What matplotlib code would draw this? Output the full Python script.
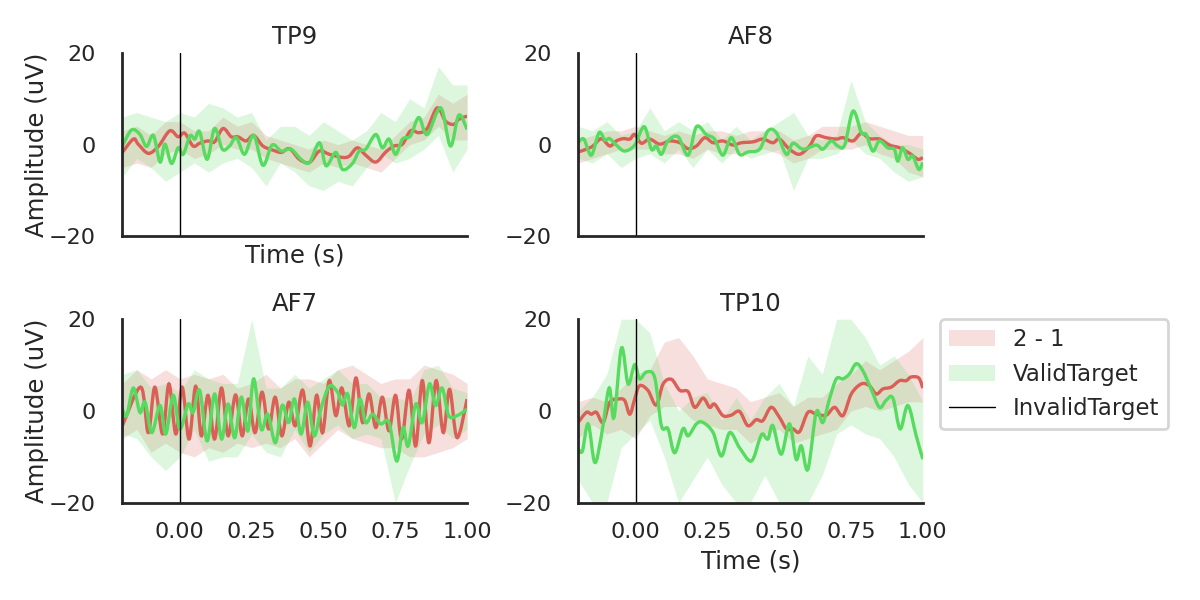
import numpy as np
import matplotlib
matplotlib.use('Agg')
import matplotlib.pyplot as plt
import seaborn as sns
from matplotlib.patches import Patch, PathPatch
from matplotlib.lines import Line2D
from matplotlib.path import Path

sns.set_style('white')
plt.rcParams['font.family'] = ['DejaVu Sans']

channels = ['TP9', 'AF8', 'AF7', 'TP10']
legend_labels = ['2 - 1', 'ValidTarget', 'InvalidTarget']
x_ticks = [0.0, 0.25, 0.5, 0.75, 1.0]
y_ticks = [-20, 0, 20]

# common time grid for the confidence bands
band_t = np.linspace(-0.2, 1.0, 25)

# ---- TP9 ----
tp9_red_t = [-0.2, -0.162, -0.145, -0.11, -0.075, -0.035, -0.006, 0.017, 0.046, 0.069, 0.098, 0.121, 0.15,
             0.179, 0.202, 0.231, 0.257, 0.289, 0.324, 0.353, 0.382, 0.416, 0.451, 0.486, 0.52, 0.566, 0.59,
             0.618, 0.647, 0.682, 0.717, 0.746, 0.775, 0.803, 0.832, 0.861, 0.896, 0.925, 0.954, 0.971, 1.0]
tp9_red_v = [-1.7, 1.2, 0.1, -1.9, -0.4, 3.0, 1.7, 2.5, -0.3, 0.3, 0.8, 0.6, 3.5,
             1.7, 1.7, 0.8, 2.0, -0.3, -1.2, -1.7, -0.9, -3.2, -3.9, -1.4, -2.1, -2.8, -2.5,
             -0.7, -2.3, -3.8, -1.6, -0.3, 0.1, 3.0, 2.6, 3.5, 8.0, 5.1, 4.4, 5.5, 6.2]
tp9_grn_t = [-0.2, -0.168, -0.139, -0.116, -0.092, -0.069, -0.052, -0.029, -0.006, 0.012, 0.035, 0.052, 0.069,
             0.095, 0.121, 0.148, 0.173, 0.197, 0.225, 0.257, 0.289, 0.321, 0.353, 0.387, 0.422, 0.451, 0.486,
             0.509, 0.543, 0.566, 0.601, 0.624, 0.647, 0.682, 0.705, 0.728, 0.751, 0.775, 0.803, 0.832, 0.861,
             0.908, 0.942, 0.971, 1.0]
tp9_grn_v = [-0.3, 3.2, 2.2, -0.4, 2.0, -3.8, 0.1, -4.1, -0.7, -2.1, 1.9, 1.2, 2.8,
             -3.2, 3.5, -1.0, -0.3, 1.5, -2.1, 2.0, -4.5, -0.1, -1.4, -1.0, -3.2, -3.9, 0.4,
             -4.6, -1.7, -5.4, -4.1, -1.4, -1.0, 2.2, -0.7, 1.2, -2.1, 1.2, 1.9, 5.9, 2.2,
             8.0, -0.3, 6.4, 3.3]
tp9_red_lo = [-5, -4, -5, -2, -1, -3, -2, 0, -1, -1, -3, -4, -5, -6, -4, -5, -4, -5, -6, -3, 0, 1, 4, 1, 1]
tp9_red_hi = [3, 4, 2, 5, 5, 3, 3, 6, 4, 5, 2, 1, 0, -1, 1, 0, 1, 0, -1, 2, 5, 6, 11, 9, 11]
tp9_grn_lo = [-7, -3, -5, -8, -6, -4, -6, -4, -3, -5, -9, -4, -6, -9, -10, -8, -9, -5, -2, -4, -3, -1, 2, -6, -1]
tp9_grn_hi = [6, 7, 6, 5, 7, 6, 9, 8, 6, 7, 1, 4, 4, 2, 5, 3, 1, 3, 7, 5, 10, 8, 17, 13, 13]

# ---- AF8 ----
af8_red_t = [-0.2, -0.171, -0.148, -0.119, -0.09, -0.067, -0.043, -0.02, -0.003, 0.02, 0.049, 0.084, 0.119,
             0.154, 0.183, 0.212, 0.241, 0.27, 0.304, 0.339, 0.368, 0.409, 0.443, 0.478, 0.501, 0.536, 0.571,
             0.606, 0.629, 0.664, 0.699, 0.722, 0.757, 0.786, 0.814, 0.849, 0.884, 0.919, 0.954, 0.983, 1.0]
af8_red_v = [-1.6, -1.0, -0.3, 1.3, -0.3, 0.8, 1.3, 1.2, 2.2, 0.3, 1.2, 0.1, 0.8,
             0.4, -0.9, -0.3, 1.5, 0.4, 0.8, -0.1, 0.4, 0.6, 1.2, 0.4, 1.2, -1.0, -2.1,
             -0.3, 1.9, 1.5, 1.2, 1.5, 0.8, 2.5, 1.3, 1.2, -0.1, -0.7, -1.9, -3.2, -2.8]
af8_grn_t = [-0.2, -0.18, -0.154, -0.127, -0.107, -0.09, -0.067, -0.038, -0.003, 0.03, 0.055, 0.072, 0.09,
             0.113, 0.148, 0.183, 0.212, 0.246, 0.275, 0.304, 0.333, 0.362, 0.391, 0.432, 0.461, 0.49, 0.525,
             0.548, 0.583, 0.629, 0.652, 0.681, 0.704, 0.728, 0.757, 0.786, 0.803, 0.826, 0.849, 0.878, 0.901,
             0.913, 0.93, 0.948, 0.965, 0.986, 1.0]
af8_grn_v = [0.4, 1.2, -2.3, 2.6, 1.0, 1.3, -0.1, -1.4, -0.1, 3.9, -1.0, -0.3, -2.1,
             0.8, 1.7, -2.3, 3.9, 2.2, 1.2, -2.3, 1.5, -2.1, -1.6, -1.0, 3.0, 2.6, -2.1,
             0.3, -1.0, -0.1, -1.0, 0.8, -0.3, -0.1, 7.3, 2.6, 2.2, -1.4, 0.8, -0.7, -1.0,
             -3.6, -0.7, -3.2, -2.5, -5.4, -3.9]
af8_red_lo = [-4, -3, -2, -1, -1, -1, -2, -2, -3, -1, -2, -2, -1, -1, -2, -4, -3, -1, -1, -1, 0, -2, -3, -6, -7]
af8_red_hi = [1, 2, 3, 3, 4, 3, 2, 3, 2, 3, 3, 2, 3, 3, 3, 1, 2, 4, 4, 4, 5, 4, 3, 2, 2]
af8_grn_lo = [-3, -4, -2, -5, -3, -2, -4, -1, -5, -1, -4, -1, -3, -2, -1, -10, -3, -3, -2, 1, -2, -3, -6, -8, -7]
af8_grn_hi = [4, 3, 5, 2, 3, 8, 3, 5, 3, 5, 1, 4, 1, 3, 5, 7, 2, 1, 2, 14, 5, 2, 0, 0, -1]

# ---- AF7 ----
af7_red_t = [-0.2, -0.136, -0.11, -0.087, -0.06, -0.038, -0.014, 0.008, 0.032, 0.055, 0.075, 0.098, 0.121,
             0.145, 0.168, 0.194, 0.217, 0.239, 0.262, 0.286, 0.309, 0.332, 0.355, 0.379, 0.402, 0.428, 0.453,
             0.476, 0.497, 0.52, 0.543, 0.564, 0.59, 0.613, 0.636, 0.659, 0.682, 0.705, 0.728, 0.751, 0.772,
             0.798, 0.821, 0.844, 0.867, 0.892, 0.917, 0.939, 0.965, 1.0]
af7_red_v = [-3.2, 5.2, -4.7, 5.2, -5.0, 5.9, -5.0, 5.2, -6.1, 5.4, -5.4, 3.4, -6.1,
             5.0, -5.4, 3.5, -5.4, 2.6, -4.7, 4.1, -3.9, 3.0, -5.4, 1.9, -3.2, 4.5, -7.6,
             3.4, -4.7, 6.6, -1.0, 5.0, -3.2, 7.2, -2.5, 3.7, -3.6, 3.0, -4.3, 3.4, -6.1,
             4.5, -7.6, 6.6, -6.9, 6.6, -4.7, 4.7, -5.8, 2.6]
af7_grn_t = [-0.2, -0.185, -0.162, -0.139, -0.121, -0.098, -0.069, -0.049, -0.023, 0.0, 0.029, 0.046, 0.069,
             0.095, 0.121, 0.145, 0.168, 0.191, 0.214, 0.237, 0.257, 0.283, 0.306, 0.333, 0.356, 0.379, 0.399,
             0.422, 0.445, 0.468, 0.491, 0.52, 0.549, 0.566, 0.584, 0.607, 0.627, 0.647, 0.671, 0.699, 0.728,
             0.755, 0.777, 0.795, 0.821, 0.844, 0.869, 0.89, 0.913, 0.936, 0.965, 1.0]
af7_grn_v = [0.4, -1.0, 5.0, -0.3, 1.9, -4.7, 1.2, -5.0, 3.4, -3.9, 1.5, -0.3, 4.5,
             -6.5, 3.7, -6.1, 1.5, -5.8, 3.0, -4.3, 7.0, -3.9, -0.7, -6.9, 1.2, -2.5, 2.6,
             -5.0, 1.9, -5.4, 0.4, 5.4, 4.1, 1.3, 3.7, -3.6, 2.6, -2.5, -0.7, -2.8, -2.5,
             -10.9, -3.6, -7.6, 1.5, -2.5, 5.9, 1.2, 5.0, -1.0, -1.0, 0.4]
af7_red_lo = [-6, -4, -9, -7, -9, -10, -8, -9, -7, -8, -7, -8, -6, -10, -7, -4, -6, -7, -8, -8, -10, -10, -9, -8, -6]
af7_red_hi = [6, 9, 7, 9, 7, 8, 7, 8, 5, 6, 8, 5, 7, 7, 6, 9, 10, 8, 6, 7, 7, 10, 9, 8, 6]
af7_grn_lo = [-5, -6, -10, -13, -10, -4, -11, -10, -10, -5, -9, -10, -4, -9, -5, -3, -6, -5, -6, -20, -12, -5, -3, -6, -4]
af7_grn_hi = [8, 9, 5, 6, 4, 9, 7, 6, 6, 20, 5, 5, 8, 5, 7, 9, 6, 6, 3, 3, 2, 9, 10, 5, 4]

# ---- TP10 ----
tp10_red_t = [-0.2, -0.171, -0.154, -0.136, -0.113, -0.09, -0.061, -0.038, -0.02, -0.003, 0.014, 0.043, 0.072,
              0.096, 0.125, 0.154, 0.183, 0.206, 0.235, 0.258, 0.275, 0.304, 0.333, 0.362, 0.391, 0.42, 0.443,
              0.472, 0.501, 0.525, 0.548, 0.571, 0.6, 0.629, 0.664, 0.693, 0.722, 0.751, 0.786, 0.814, 0.838,
              0.861, 0.89, 0.919, 0.942, 0.959, 0.986, 1.0]
tp10_red_v = [-2.5, -0.3, -0.7, -0.3, -2.5, 1.9, 2.6, 2.3, -0.7, 2.6, 5.5, 4.5, 1.3,
              5.9, 6.9, 4.5, 4.2, 0.8, 2.8, 0.8, 1.5, -1.0, -0.9, -0.1, -3.2, -1.9, -2.1,
              0.8, -1.4, -3.9, -3.9, -4.5, -0.3, -0.7, -0.9, 0.8, -1.0, 3.7, 5.9, 5.5, 3.7,
              4.8, 5.2, 6.6, 6.6, 7.4, 7.2, 5.0]
tp10_grn_t = [-0.2, -0.185, -0.165, -0.142, -0.119, -0.092, -0.075, -0.049, -0.026, -0.003, 0.014, 0.038, 0.067,
              0.09, 0.113, 0.136, 0.165, 0.183, 0.212, 0.235, 0.27, 0.299, 0.328, 0.362, 0.403, 0.432, 0.443,
              0.461, 0.478, 0.507, 0.536, 0.559, 0.577, 0.6, 0.629, 0.652, 0.675, 0.699, 0.722, 0.745, 0.768,
              0.791, 0.82, 0.849, 0.872, 0.896, 0.921, 0.948, 0.977, 1.0]
tp10_grn_v = [-8.3, -8.7, -2.8, -11.2, -5.4, 5.0, -1.4, 13.7, 5.9, 10.1, 7.0, 8.5, 7.2,
              -3.2, -3.9, -9.1, -3.9, -5.4, -2.8, -2.5, -4.7, -9.8, -4.7, -8.0, -10.9, -6.1, -5.0,
              -6.1, -3.2, -9.4, -2.8, -10.5, -7.6, -12.7, -0.3, -2.5, 2.6, 7.0, 7.0, 8.1, 10.3,
              8.8, 4.8, 0.8, 2.3, 2.8, -3.9, 1.2, -5.4, -10.5]
tp10_red_lo = [-6, -3, -5, -4, -6, -1, 1, 1, -2, -3, -4, -4, -7, -5, -4, -7, -6, -5, -4, 0, 1, 0, 1, 2, 2]
tp10_red_hi = [2, 3, 2, 5, 8, 9, 15, 16, 12, 7, 6, 5, 2, 3, 4, 1, 3, 3, 6, 8, 11, 9, 11, 13, 16]
tp10_grn_lo = [-15, -20, -20, -8, -5, -2, -10, -20, -15, -10, -16, -20, -20, -14, -20, -20, -20, -14, -5, -3, -5, -6, -10, -16, -20]
tp10_grn_hi = [0, 3, 8, 20, 20, 17, 6, 0, 3, 4, -2, 3, -2, 3, 6, 1, 12, 8, 20, 20, 16, 10, 12, 8, 2]

red = '#db5f57'
green = '#57db5f'

data = {
    'TP9': (tp9_red_t, tp9_red_v, tp9_red_lo, tp9_red_hi, tp9_grn_t, tp9_grn_v, tp9_grn_lo, tp9_grn_hi),
    'AF8': (af8_red_t, af8_red_v, af8_red_lo, af8_red_hi, af8_grn_t, af8_grn_v, af8_grn_lo, af8_grn_hi),
    'AF7': (af7_red_t, af7_red_v, af7_red_lo, af7_red_hi, af7_grn_t, af7_grn_v, af7_grn_lo, af7_grn_hi),
    'TP10': (tp10_red_t, tp10_red_v, tp10_red_lo, tp10_red_hi, tp10_grn_t, tp10_grn_v, tp10_grn_lo, tp10_grn_hi),
}


def smooth_path(t, v):
    # catmull-rom curve through the read points, drawn as cubic bezier segments
    p = np.column_stack([t, v])
    pp = np.vstack([p[0], p, p[-1]])
    verts = [p[0]]
    codes = [Path.MOVETO]
    for i in range(1, len(pp) - 2):
        c1 = pp[i] + (pp[i + 1] - pp[i - 1]) / 6
        c2 = pp[i + 1] - (pp[i + 2] - pp[i]) / 6
        verts += [c1, c2, pp[i + 1]]
        codes += [Path.CURVE4] * 3
    return Path(verts, codes)


fig, axes = plt.subplots(2, 2, figsize=(6, 3), dpi=200, sharex=True)
fig.subplots_adjust(left=0.102, right=0.769, top=0.912, bottom=0.162, wspace=0.322, hspace=0.451)

for ax, ch in zip(axes.flat, channels):
    rt, rv, rlo, rhi, gt, gv, glo, ghi = data[ch]
    ax.fill_between(band_t, rlo, rhi, color=red, alpha=0.2, linewidth=0)
    ax.fill_between(band_t, glo, ghi, color=green, alpha=0.2, linewidth=0)
    ax.add_patch(PathPatch(smooth_path(rt, rv), facecolor='none', edgecolor=red, linewidth=1.2))
    ax.add_patch(PathPatch(smooth_path(gt, gv), facecolor='none', edgecolor=green, linewidth=1.2))
    ax.axvline(0, color='k', linewidth=0.5)
    ax.set_xlim(-0.2, 1.0)
    ax.set_ylim(-20, 20)
    ax.set_yticks(y_ticks)
    ax.set_xticks(x_ticks)
    ax.set_title(ch, fontsize=8.8, pad=3)
    ax.tick_params(axis='y', labelsize=8, pad=6)
    ax.tick_params(axis='x', labelsize=8, pad=3.5)
    for sp in ['left', 'bottom']:
        ax.spines[sp].set_linewidth(1.0)

axes[0, 0].set_ylabel('Amplitude (uV)', fontsize=8.8, labelpad=0)
axes[1, 0].set_ylabel('Amplitude (uV)', fontsize=8.8, labelpad=0)
axes[0, 0].set_xlabel('Time (s)', fontsize=8.8, labelpad=2.5)
axes[1, 1].set_xlabel('Time (s)', fontsize=8.8, labelpad=2.5)

sns.despine()

handles = [Patch(facecolor=red, alpha=0.2, edgecolor='none'),
           Patch(facecolor=green, alpha=0.2, edgecolor='none'),
           Line2D([0], [0], color='k', linewidth=0.5)]
axes[1, 1].legend(handles, legend_labels, bbox_to_anchor=(1.05, 1), loc='upper left',
                  borderaxespad=0, fontsize=8.2)

fig.savefig('out.png', dpi=200)
